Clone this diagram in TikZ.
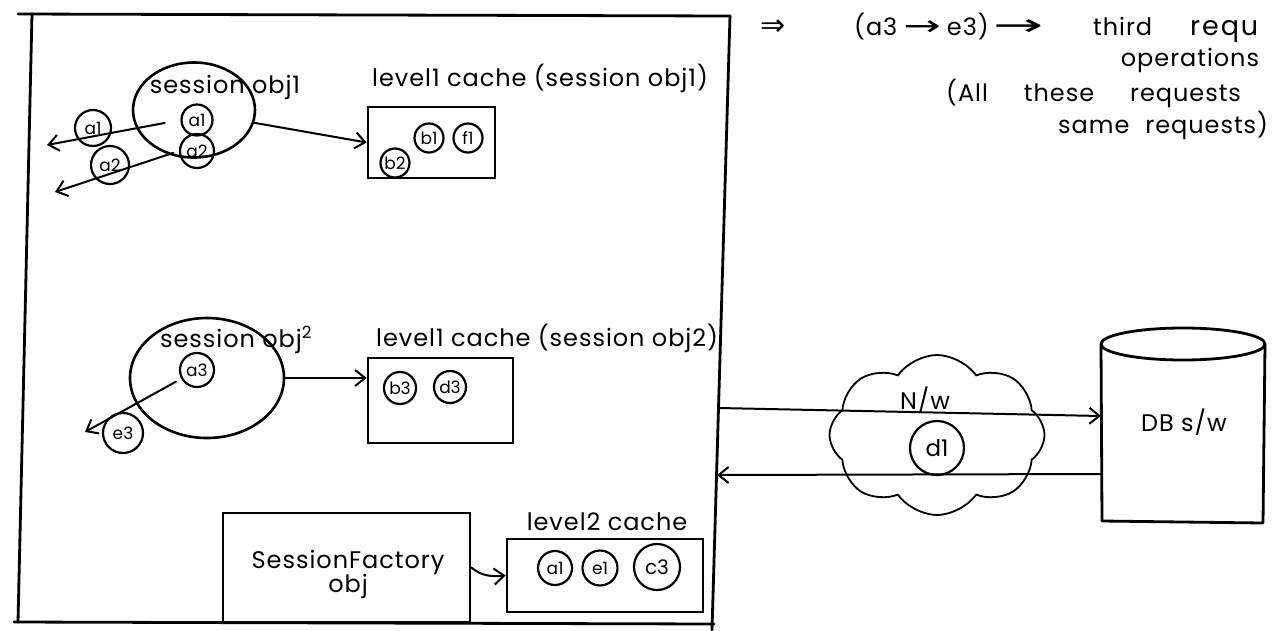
\documentclass[tikz,border=0pt]{standalone}
\usepackage{fontspec}
\setmainfont{Poppins}
\newfontfamily\handfont[LetterSpace=4]{Poppins}
\newfontfamily\widefont[LetterSpace=7]{Poppins}
\newfontfamily\symf{DejaVu Sans}
\usetikzlibrary{shapes.geometric,shapes.symbols,arrows.meta}
\begin{document}
\begin{tikzpicture}[x=1pt,y=-1pt,
  ln/.style={line width=2.6pt, line join=round, line cap=round},
  arr/.style={line width=2pt, line cap=round, -{Straight Barb[length=10pt,width=16pt,line width=2pt]}},
  obj/.style={circle, draw, line width=2.2pt, inner sep=0pt, minimum size=#1, font=\fontsize{17}{17}\selectfont},
  obj/.default=31pt,
  sess/.style={ellipse, draw, line width=2.6pt, inner sep=0pt},
  cache/.style={rectangle, draw, line width=2.6pt, inner sep=0pt},
  lbl/.style={font=\handfont\fontsize{24}{27}\selectfont, inner sep=0pt},
  note/.style={font=\handfont\fontsize{24}{27}\selectfont, inner sep=0pt}
]
\useasboundingbox (0,0) rectangle (1280,630);

% outer box (application)
\draw[ln, line width=2.8pt] (18,14) -- (730,16);
\draw[ln, line width=2.8pt] (32,14) -- (18,622);
\draw[ln, line width=2.8pt] (14,622) -- (714,624);
\draw[ln, line width=2.8pt] (730,16) -- (712,630);
\coordinate (bR1) at (719,408);
\coordinate (bR2) at (717,475);

% session obj 1
\node[sess, minimum width=122pt, minimum height=95pt] (s1) at (194,110) {};
\node[lbl] (s1l) at (225,87) {session obj1};
\node[obj] (a1i) at (197,120) {a1};
\node[obj=34pt] (a2i) at (197,151) {a2};
\node[obj=36pt] (a1o) at (93,128) {a1};
\node[obj=38pt] (a2o) at (110,165) {a2};
\coordinate (o1end) at (47,145);
\coordinate (o2end) at (55,192);
\draw[arr, shorten <=16pt] (a1i.west) -- (o1end);
\draw[arr, shorten <=6pt] (a2i.west) -- (o2end);

% level1 cache (session obj1)
\node[cache, minimum width=127pt, minimum height=71pt] (c1) at (431.5,142.5) {};
\node[lbl, anchor=west] (c1l) at (372,78) {level1 cache (session obj1)};
\node[obj=29pt] (b1) at (429,138) {b1};
\node[obj=29pt] (f1) at (468,138) {f1};
\node[obj=29pt] (b2) at (395,163) {b2};
\draw[arr] (s1.-12) -- (c1.west);

% session obj 2
\node[sess, minimum width=154pt, minimum height=120pt] (s2) at (207,378) {};
\node[lbl] (s2l) at (236,340) {session obj\textsuperscript{2}};
\node[obj=34pt] (a3) at (197,370) {a3};
\node[obj=40pt] (e3) at (123,433) {e3};
\coordinate (e3end) at (85,432);
\draw[arr, shorten <=6pt] (a3) -- (e3end);

% level1 cache (session obj2)
\node[cache, minimum width=145pt, minimum height=85pt] (c2) at (440.5,400.5) {};
\node[lbl, anchor=west] (c2l) at (376,338) {level1 cache (session obj2)};
\node[obj=32pt] (b3) at (400,388) {b3};
\node[obj=32pt] (d3) at (450,387) {d3};
\draw[arr] (s2.east) -- (s2.east -| c2.west);

% SessionFactory obj
\node[cache, minimum width=247pt, minimum height=109pt] (sf) at (346.5,567.5) {};
\node[lbl, align=center] (sft) at (348,574) {SessionFactory\\[-3pt]obj};

% level2 cache
\node[cache, minimum width=196pt, minimum height=73pt] (l2) at (605,575.5) {};
\node[lbl] (l2l) at (607,522) {level2 cache};
\node[obj=34pt] (a1c) at (555,568) {a1};
\node[obj=35pt] (e1c) at (600,568) {e1};
\node[obj=46pt, font=\fontsize{20}{20}\selectfont] (c3c) at (657,567) {c3};
\draw[arr] (sf.east) to[out=-40, in=185] (l2.west);

% network cloud
\node[cloud, draw, line width=1.8pt, cloud puffs=8, cloud puff arc=110, aspect=1.3,
      minimum width=215pt, minimum height=160pt] (net) at (937,435) {};
\node[lbl] (netl) at (925,400) {N/w};
\node[obj=54pt, font=\fontsize{23}{23}\selectfont] (d1) at (937,448) {d1};

% DB software cylinder
\draw[ln, line width=2.8pt] (1183,344) ellipse [x radius=82pt, y radius=16pt];
\draw[ln, line width=2.8pt] (1101,344) -- (1102,521) -- (1263,523) -- (1265,344);
\node[minimum width=163pt, minimum height=178pt, inner sep=0pt] (db) at (1183,433) {};
\node[lbl] (dbl) at (1184,422) {DB s/w};
\coordinate (dbIn) at (1101,416);
\coordinate (dbOut) at (1101,474);

\draw[arr] (bR1) -- (dbIn);
\draw[arr] (dbOut) -- (bR2);

% notes top right
\node[note, anchor=west] (n1) at (760,28) {\makebox[94pt][l]{\symf\fontsize{30}{30}\selectfont ⇒}\makebox[139pt][l]{(a3\hspace{6pt}\scalebox{1.6}[1]{\symf\fontsize{28}{28}\selectfont →}\hspace{6pt}e3)}\makebox[100pt][l]{\scalebox{2}[1]{\symf\fontsize{30}{30}\selectfont →}}\makebox[97pt][l]{third}{\widefont\fontsize{27}{27}\selectfont requ}};
\node[note] (n2) at (1190,60) {operations};
\node[note, anchor=west] (n3) at (946,93) {(All\hspace{36pt}these\hspace{36pt}requests};
\node[note, anchor=west] (n4) at (1058,125) {same\hspace{16pt}requests)};
\end{tikzpicture}
\end{document}
